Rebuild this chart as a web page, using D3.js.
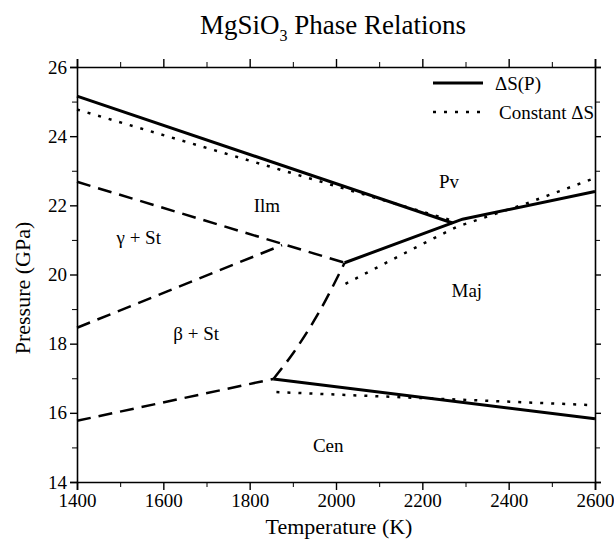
<!DOCTYPE html>
<html>
<head>
<meta charset="utf-8">
<script src="https://cdn.jsdelivr.net/npm/d3@7"></script>
<style>
  body { margin: 0; background: #fff; }
  svg { font-family: "Liberation Serif", "Times New Roman", serif; }
</style>
</head>
<body>
<svg id="chart" width="614" height="548"></svg>
<script>
// tick values
const tempTicks = [1400, 1600, 1800, 2000, 2200, 2400, 2600];
const tempMinor = [1500, 1700, 1900, 2100, 2300, 2500];
const pressTicks = [14, 16, 18, 20, 22, 24, 26];
const pressMinor = [15, 17, 19, 21, 23, 25];

// Delta S(P) boundaries (solid)
const dsIlmPv = [[1400, 25.16], [2270, 21.49]];
const dsMajPv = [[2020, 20.34], [2293, 21.6], [2600, 22.4]];
const dsCenMaj = [[1855, 16.98], [2600, 15.83]];

// constant Delta S boundaries (dotted)
const csIlmPv = [[1400, 24.77], [2280, 21.52]];
const csMajPv = [[2022, 19.73], [2200, 20.88], [2280, 21.38], [2440, 22.05], [2600, 22.79]];
const csCenMaj = [[1862, 16.6], [2600, 16.22]];

// other boundaries (dashed)
const gammaIlm = [[1400, 22.68], [2020, 20.34]];
const betaGamma = [[1400, 18.46], [1875, 20.85]];
const cenBeta = [[1400, 15.77], [1855, 16.98]];
const betaIlm = [[1855, 16.98], [1901, 17.73], [1964, 18.98], [2020, 20.34]];

const phaseNames = ['Ilm', 'Pv', 'Maj', 'Cen', '\u03b3 + St', '\u03b2 + St'];
const phaseT = [1840, 2262, 2303, 1982, 1543, 1676];
const phaseP = [22.0, 22.68, 19.55, 15.07, 21.06, 18.31];

const svg = d3.select('#chart');
const margin = {left: 77, right: 19, top: 67, bottom: 66};
const width = 614, height = 548;

const x = d3.scaleLinear().domain([1400, 2600]).range([margin.left, width - margin.right]);
const y = d3.scaleLinear().domain([14, 26]).range([height - margin.bottom, margin.top]);

const line = d3.line().x(d => x(d[0])).y(d => y(d[1]));

// title
const title = svg.append('text')
    .attr('x', 333)
    .attr('y', 34)
    .attr('text-anchor', 'middle')
    .style('font-size', '27px');
title.append('tspan').text('MgSiO');
title.append('tspan').attr('dy', 7).style('font-size', '16px').text('3');
title.append('tspan').attr('dy', -7).text(' Phase Relations');

// axes
const axisStyle = g => {
    g.selectAll('path').attr('stroke-width', 1.6);
    g.selectAll('line').attr('stroke-width', 1.4);
    g.selectAll('text').style('font-size', '19px').style('font-family', '"Liberation Serif", serif');
};

svg.append('g')
    .attr('transform', `translate(0,${y(14)})`)
    .call(d3.axisBottom(x).tickValues(tempTicks).tickFormat(d3.format('d')).tickSizeOuter(0).tickSize(8).tickPadding(4))
    .call(axisStyle);
svg.append('g')
    .attr('transform', `translate(0,${y(14)})`)
    .call(d3.axisBottom(x).tickValues(tempMinor).tickSize(5).tickFormat(''))
    .call(g => g.select('path').remove());

svg.append('g')
    .attr('transform', `translate(0,${y(26)})`)
    .call(d3.axisTop(x).tickValues(tempTicks).tickSizeOuter(0).tickSize(8).tickFormat(''))
    .call(axisStyle);
svg.append('g')
    .attr('transform', `translate(0,${y(26)})`)
    .call(d3.axisTop(x).tickValues(tempMinor).tickSize(5).tickFormat(''))
    .call(g => g.select('path').remove());

svg.append('g')
    .attr('transform', `translate(${x(1400)},0)`)
    .call(d3.axisLeft(y).tickValues(pressTicks).tickSizeOuter(0).tickSize(7).tickPadding(3))
    .call(axisStyle);
svg.append('g')
    .attr('transform', `translate(${x(1400)},0)`)
    .call(d3.axisLeft(y).tickValues(pressMinor).tickSize(5).tickFormat(''))
    .call(g => g.select('path').remove());

svg.append('g')
    .attr('transform', `translate(${x(2600)},0)`)
    .call(d3.axisRight(y).tickValues(pressTicks).tickSizeOuter(0).tickSize(6).tickFormat(''))
    .call(axisStyle);
svg.append('g')
    .attr('transform', `translate(${x(2600)},0)`)
    .call(d3.axisRight(y).tickValues(pressMinor).tickSize(5).tickFormat(''))
    .call(g => g.select('path').remove());

// axis titles
svg.append('text')
    .attr('x', 339)
    .attr('y', 534)
    .attr('text-anchor', 'middle')
    .style('font-size', '22px')
    .text('Temperature (K)');

svg.append('text')
    .attr('transform', 'translate(30,288) rotate(-90)')
    .attr('text-anchor', 'middle')
    .style('font-size', '22px')
    .text('Pressure (GPa)');

// boundaries
const drawLine = (data, dash, w, curve) => {
    svg.append('path')
        .datum(data)
        .attr('d', curve ? line.curve(d3.curveCatmullRom)(data) : line.curve(d3.curveLinear)(data))
        .attr('fill', 'none')
        .attr('stroke', '#000')
        .attr('stroke-width', w)
        .attr('stroke-dasharray', dash);
};

[gammaIlm, betaGamma, cenBeta].forEach(d => drawLine(d, '14 8', 2.5));
drawLine(betaIlm, '14 8', 2.5, true);
[csIlmPv, csMajPv, csCenMaj].forEach(d => drawLine(d, '3 8', 2.5));
[dsIlmPv, dsMajPv, dsCenMaj].forEach(d => drawLine(d, null, 3));

// phase labels
phaseNames.forEach((name, i) => {
    svg.append('text')
        .attr('x', x(phaseT[i]))
        .attr('y', y(phaseP[i]))
        .attr('dy', '0.35em')
        .attr('text-anchor', 'middle')
        .style('font-size', '19px')
        .text(name);
});

// legend
const legend = svg.append('g');
legend.append('line')
    .attr('x1', 433).attr('x2', 483).attr('y1', 83).attr('y2', 83)
    .attr('stroke', '#000').attr('stroke-width', 3);
legend.append('text')
    .attr('x', 495).attr('y', 83).attr('dy', '0.35em')
    .style('font-size', '19px')
    .text('\u0394S(P)');
legend.append('line')
    .attr('x1', 433).attr('x2', 483).attr('y1', 112).attr('y2', 112)
    .attr('stroke', '#000').attr('stroke-width', 2.5).attr('stroke-dasharray', '3 8');
legend.append('text')
    .attr('x', 499).attr('y', 112).attr('dy', '0.35em')
    .style('font-size', '19px')
    .text('Constant \u0394S');
</script>
</body>
</html>
